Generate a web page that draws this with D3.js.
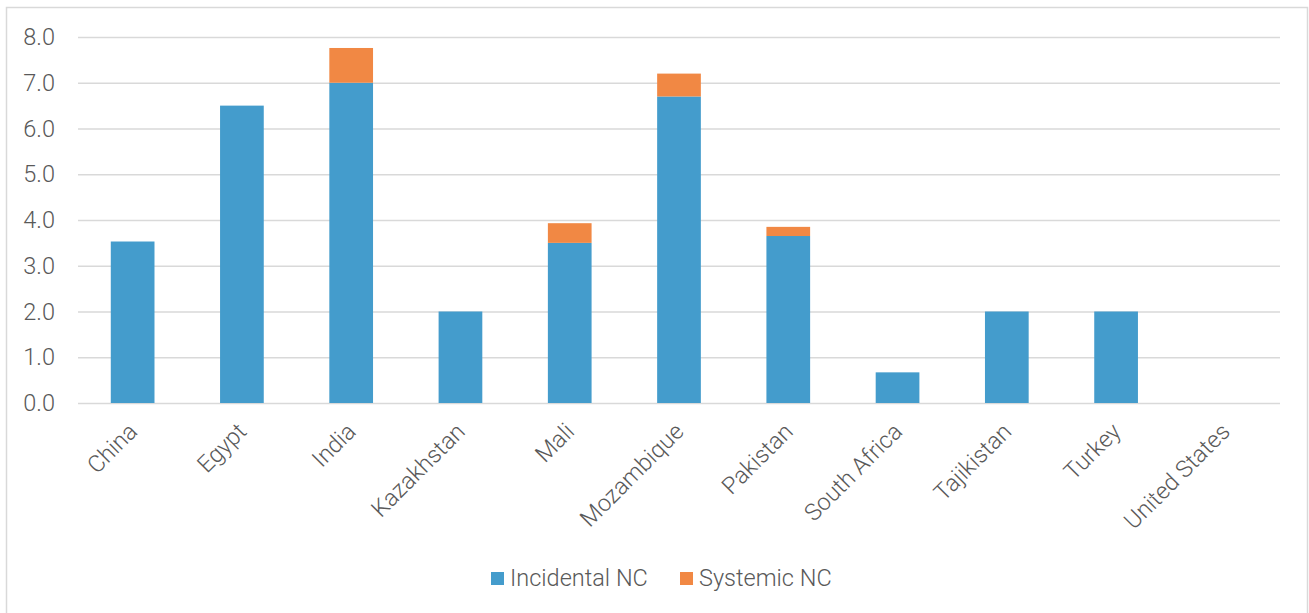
<!DOCTYPE html>
<html>
<head>
<meta charset="utf-8">
<script src="https://cdn.jsdelivr.net/npm/d3@7"></script>
<style>
  body { margin: 0; background: #fff; }
  svg { display: block; font-family: Roboto, "Noto Sans", sans-serif; }
</style>
</head>
<body>
<script>
const countries = ["China", "Egypt", "India", "Kazakhstan", "Mali", "Mozambique",
  "Pakistan", "South Africa", "Tajikistan", "Turkey", "United States"];
const incidental = [3.53, 6.5, 7.0, 2.0, 3.5, 6.7, 3.65, 0.67, 2.0, 2.0, 0];
const systemic = [0, 0, 0.76, 0, 0.43, 0.5, 0.2, 0, 0, 0, 0];
const yTicks = [0, 1, 2, 3, 4, 5, 6, 7, 8];
const seriesNames = ["Incidental NC", "Systemic NC"];
const colors = ["#449ccc", "#f18844"];

const w = 1309;
const h = 613;
const plotLeft = 78, plotRight = 1280, plotTop = 37, plotBottom = 403;
const fontSize = 23.5;

const rows = countries.map((c, i) => ({
  country: c,
  "Incidental NC": incidental[i],
  "Systemic NC": systemic[i],
}));
const stacked = d3.stack().keys(seriesNames)(rows);

const svg = d3.select("body").append("svg")
  .attr("width", w)
  .attr("height", h);

// chart frame
svg.append("rect")
  .attr("x", 6.5).attr("y", 7.5)
  .attr("width", 1301).attr("height", 620)
  .attr("fill", "#fff")
  .attr("stroke", "#d9d9d9")
  .attr("stroke-width", 1.5);

const xScale = d3.scaleBand()
  .domain(countries)
  .range([plotLeft, plotRight])
  .paddingInner(0.6)
  .paddingOuter(0.3);

const yScale = d3.scaleLinear().domain([0, 8]).range([plotBottom, plotTop]);

// gridlines + y labels
const yAxis = d3.axisLeft(yScale)
  .tickValues(yTicks)
  .tickSize(-(plotRight - plotLeft))
  .tickPadding(23)
  .tickFormat(d3.format(".1f"));

const gy = svg.append("g")
  .attr("transform", `translate(${plotLeft},0)`)
  .call(yAxis);
gy.select(".domain").remove();
gy.selectAll(".tick line").attr("stroke", "#d9d9d9").attr("stroke-width", 1.5);
gy.selectAll(".tick text")
  .attr("fill", "#595959")
  .attr("font-size", fontSize)
  .attr("font-weight", 300)
  .attr("font-family", "Roboto, sans-serif");

// bars
svg.append("g")
  .selectAll("g")
  .data(stacked)
  .join("g")
  .attr("fill", (d, i) => colors[i])
  .selectAll("rect")
  .data((d) => d)
  .join("rect")
  .attr("x", (d) => xScale(d.data.country))
  .attr("y", (d) => yScale(d[1]))
  .attr("width", xScale.bandwidth())
  .attr("height", (d) => yScale(d[0]) - yScale(d[1]));

// x labels
const xAxis = d3.axisBottom(xScale).tickSize(0).tickPadding(0);
const gx = svg.append("g")
  .attr("transform", `translate(0,${plotBottom})`)
  .call(xAxis);
gx.select(".domain").remove();
gx.selectAll(".tick text")
  .attr("fill", "#595959")
  .attr("font-size", fontSize)
  .attr("font-weight", 300)
  .attr("font-family", "Roboto, sans-serif")
  .attr("text-anchor", "end")
  .attr("dy", null)
  .attr("y", null)
  .attr("transform", "translate(6,30) rotate(-45)");

// legend
const legend = svg.append("g").attr("transform", "translate(491,572)");
const legendX = [0, 189];
seriesNames.forEach((name, i) => {
  const item = legend.append("g").attr("transform", `translate(${legendX[i]},0)`);
  item.append("rect")
    .attr("width", 13).attr("height", 13)
    .attr("fill", colors[i]);
  item.append("text")
    .attr("x", 19).attr("y", 14)
    .attr("fill", "#595959")
    .attr("font-size", fontSize)
    .attr("font-weight", 300)
    .text(name);
});
</script>
</body>
</html>
